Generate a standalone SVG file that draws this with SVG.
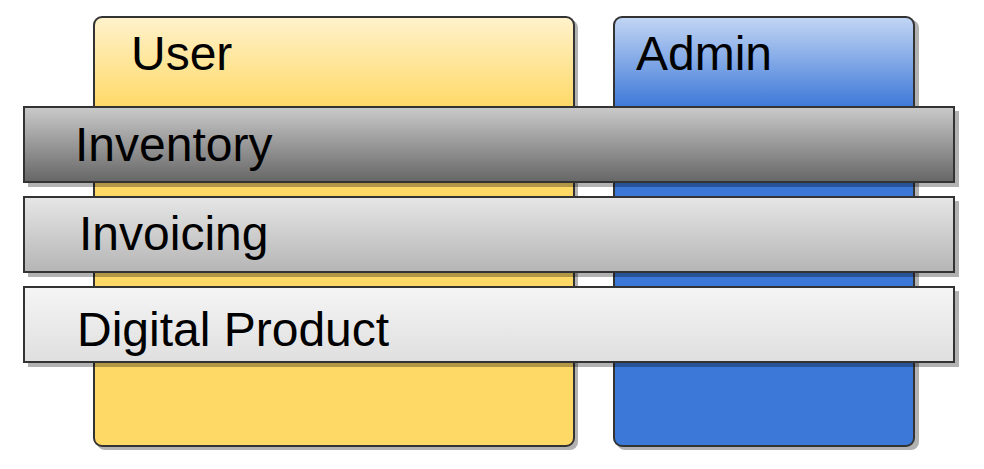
<svg xmlns="http://www.w3.org/2000/svg" width="984" height="469" viewBox="0 0 984 469">
<style>
.box{stroke:#333;stroke-width:2}
.lbl{font-family:"Liberation Sans",Arial,sans-serif;font-size:48px;fill:#000}
</style>
<defs>
<linearGradient id="gUser" gradientUnits="userSpaceOnUse" x1="0" y1="17" x2="0" y2="108">
<stop offset="0" stop-color="#fff2cc"/><stop offset="1" stop-color="#ffd966"/>
</linearGradient>
<linearGradient id="gAdmin" gradientUnits="userSpaceOnUse" x1="0" y1="17" x2="0" y2="108">
<stop offset="0" stop-color="#c3d6f4"/><stop offset="1" stop-color="#3c78d8"/>
</linearGradient>
<linearGradient id="gInv" x1="0" y1="0" x2="0" y2="1">
<stop offset="0" stop-color="#cacaca"/><stop offset="1" stop-color="#666"/>
</linearGradient>
<linearGradient id="gInvo" x1="0" y1="0" x2="0" y2="1">
<stop offset="0" stop-color="#e6e6e6"/><stop offset="1" stop-color="#b5b5b5"/>
</linearGradient>
<linearGradient id="gDig" x1="0" y1="0" x2="0" y2="1">
<stop offset="0" stop-color="#f5f5f5"/><stop offset="1" stop-color="#dfdfdf"/>
</linearGradient>
</defs>
<g id="user">
<rect x="97" y="20" width="481" height="430" rx="8" fill="#000" fill-opacity="0.3"/>
<rect class="box" x="94" y="17" width="480" height="429" rx="8" fill="url(#gUser)"/>
<text class="lbl" x="131" y="70">User</text>
</g>
<g id="admin">
<rect x="617" y="20" width="302" height="430" rx="8" fill="#000" fill-opacity="0.3"/>
<rect class="box" x="614" y="17" width="300" height="429" rx="8" fill="url(#gAdmin)"/>
<text class="lbl" x="636" y="70">Admin</text>
</g>
<g id="inventory">
<rect x="28" y="111" width="931" height="76" fill="#000" fill-opacity="0.3"/>
<rect class="box" x="24" y="107" width="930" height="75" fill="url(#gInv)"/>
<text class="lbl" x="75" y="161">Inventory</text>
</g>
<g id="invoicing">
<rect x="28" y="201" width="931" height="76" fill="#000" fill-opacity="0.3"/>
<rect class="box" x="24" y="197" width="930" height="75" fill="url(#gInvo)"/>
<text class="lbl" x="79" y="250">Invoicing</text>
</g>
<g id="digital-product">
<rect x="28" y="291" width="931" height="76" fill="#000" fill-opacity="0.3"/>
<rect class="box" x="24" y="287" width="930" height="75" fill="url(#gDig)"/>
<text class="lbl" x="77" y="346">Digital Product</text>
</g>
<g id="connectors"></g>
</svg>
